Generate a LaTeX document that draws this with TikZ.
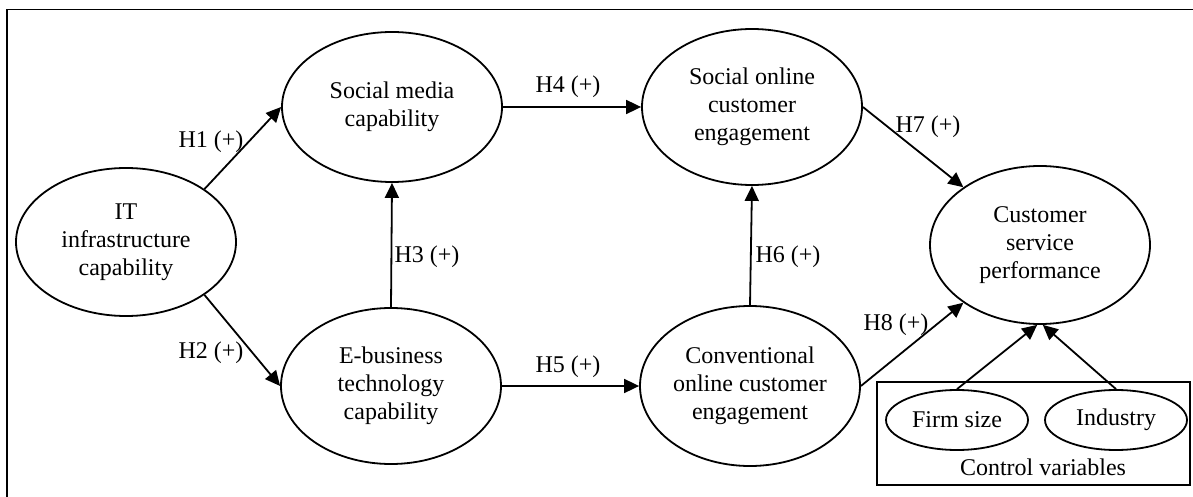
\documentclass[tikz,border=0pt]{standalone}
\usepackage{fontspec}
\setmainfont{Liberation Serif}
\usetikzlibrary{arrows.meta,shapes.geometric}
\begin{document}
\begin{tikzpicture}
  [x=0.5pt,y=-0.5pt,line width=0.9pt,>={Triangle[length=7.5pt,width=7pt]},
   every node/.style={font=\fontsize{12}{14}\selectfont, align=center},
   construct/.style={draw, ellipse, inner sep=0pt, minimum width=110pt, minimum height=77pt},
   control/.style={draw, ellipse, inner sep=0pt, minimum width=71pt, minimum height=30pt},
   hyp/.style={inner sep=0pt}]
  \useasboundingbox (0,0) rectangle (1193,497);
  \draw (1200,9.5) -- (7,9.5) -- (7,505);

  \node[construct, minimum height=74pt] (itc) at (126,242) {IT\\infrastructure\\capability};
  \node[construct, minimum height=75pt] (smc) at (392,107) {Social media\\capability};
  \node[construct, minimum height=78pt] (ebc) at (391,386) {E-business\\technology\\capability};
  \node[construct, minimum height=78pt] (soce) at (752,107) {Social online\\customer\\engagement};
  \node[construct, minimum height=80pt] (cvce) at (750,386) {Conventional\\online customer\\engagement};
  \node[construct, minimum height=79pt] (csp) at (1040,245) {Customer\\service\\performance};
  \node[draw, inner sep=0pt, minimum width=156.5pt, minimum height=51.5pt] (ctrl) at (1033.5,433.5) {};
  \node[control] (firm) at (957,420) {Firm size};
  \node[control] (ind) at (1116,420) {Industry};
  \node (ctrltxt) at (1043,467) {Control variables};

  \foreach \from/\to in {itc.34/smc.west, itc.-34/ebc.west, ebc.north/smc.south, smc.east/soce.west, ebc.east/cvce.west, cvce.north/soce.south, soce.east/csp.143, cvce.east/csp.217, firm.north/csp.268, ind.north/csp.272}
    \draw[->] (\from) -- (\to);

  \foreach \i/\x/\y in {1/211/142, 2/211/353, 3/427/257, 4/568/87, 5/568/367, 6/788/257, 7/928/127, 8/896/325}
    \node[hyp] (h\i) at (\x,\y) {H\i\ (+)};
\end{tikzpicture}
\end{document}
